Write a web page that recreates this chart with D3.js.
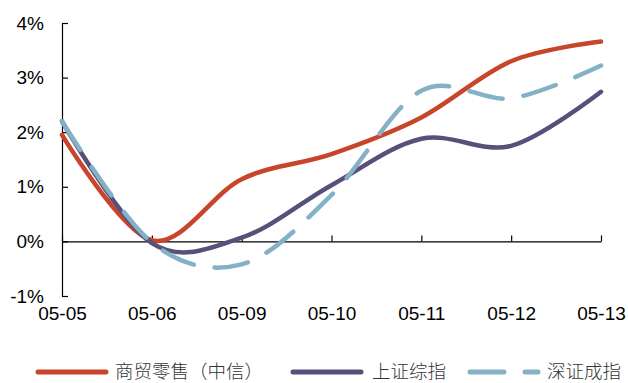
<!DOCTYPE html>
<html>
<head>
<meta charset="utf-8">
<script src="https://cdn.jsdelivr.net/npm/d3@7"></script>
<style>
  body { margin: 0; background: #fff; }
  svg { display: block; }
</style>
</head>
<body>
<svg id="chart" width="628" height="383"></svg>
<script>
// chart data
const dates = ['05-05', '05-06', '05-09', '05-10', '05-11', '05-12', '05-13'];
const retail = [1.95, 0.02, 1.14, 1.6, 2.27, 3.3, 3.66];     // 商贸零售（中信）
const shanghai = [2.2, -0.03, 0.07, 1.03, 1.88, 1.75, 2.74]; // 上证综指
const shenzhen = [2.2, -0.02, -0.42, 0.85, 2.76, 2.62, 3.22]; // 深证成指
const yTicks = [-1, 0, 1, 2, 3, 4];

const series = [
  { name: '商贸零售（中信）', values: retail, color: '#C8442A', dash: null },
  { name: '上证综指', values: shanghai, color: '#57507A', dash: null },
  { name: '深证成指', values: shenzhen, color: '#84B1C5', dash: '34,21' }
];

const svg = d3.select('#chart');

const x = d3.scalePoint()
  .domain(dates)
  .range([62, 601])
  .padding(0);

const y = d3.scaleLinear()
  .domain([-1, 4])
  .range([296, 23]);

const axisFont = '"Liberation Sans", Arial, sans-serif';

// Y axis, ticks pointing inward
const yAxis = svg.append('g')
  .attr('transform', 'translate(62,0)')
  .call(d3.axisLeft(y)
    .tickValues(yTicks)
    .tickSizeInner(-6)
    .tickSizeOuter(0)
    .tickPadding(18)
    .tickFormat(d => d + '%'));

yAxis.select('.domain').attr('stroke', '#000').attr('stroke-width', 1.2);
yAxis.selectAll('line').attr('stroke', '#000').attr('stroke-width', 1.2);
yAxis.selectAll('text')
  .style('font-family', axisFont)
  .style('font-size', '19px')
  .attr('fill', '#000');

// X axis line at 0%, ticks pointing up
const xAxis = svg.append('g')
  .attr('transform', `translate(0,${y(0)})`)
  .call(d3.axisBottom(x)
    .tickSizeInner(-6)
    .tickSizeOuter(0)
    .tickFormat(''));

xAxis.select('.domain').attr('stroke', '#000').attr('stroke-width', 1.2);
xAxis.selectAll('line').attr('stroke', '#000').attr('stroke-width', 1.2);

// X labels sit below the plot
const xLabels = svg.append('g')
  .attr('transform', `translate(0,${y(-1)})`)
  .call(d3.axisBottom(x).tickSize(0).tickPadding(11));

xLabels.select('.domain').remove();
xLabels.selectAll('text')
  .style('font-family', axisFont)
  .style('font-size', '19px')
  .attr('fill', '#000');

// Smoothed lines
const line = d3.line()
  .x((d, i) => x(dates[i]))
  .y(d => y(d))
  .curve(d3.curveCatmullRom.alpha(0));

svg.append('g')
  .selectAll('path')
  .data(series)
  .enter()
  .append('path')
  .attr('d', d => line(d.values))
  .attr('fill', 'none')
  .attr('stroke', d => d.color)
  .attr('stroke-width', 4.5)
  .attr('stroke-linecap', 'round')
  .attr('stroke-linejoin', 'round')
  .attr('stroke-dasharray', d => d.dash);

// Legend
const legendX = [38, 293, 470];
const legend = svg.append('g')
  .selectAll('g')
  .data(series)
  .enter()
  .append('g')
  .attr('transform', (d, i) => `translate(${legendX[i]},372)`);

legend.append('line')
  .attr('x1', 0)
  .attr('x2', 68)
  .attr('y1', 0)
  .attr('y2', 0)
  .attr('stroke', d => d.color)
  .attr('stroke-width', 5)
  .attr('stroke-linecap', 'round')
  .attr('stroke-dasharray', d => d.dash);

legend.append('text')
  .attr('x', (d, i) => i === 1 ? 79 : 77)
  .attr('y', 0)
  .attr('dy', '0.34em')
  .style('font-family', '"Noto Sans CJK SC", sans-serif')
  .style('font-size', '18.5px')
  .style('font-weight', 300)
  .attr('fill', '#333')
  .text(d => d.name);
</script>
</body>
</html>
